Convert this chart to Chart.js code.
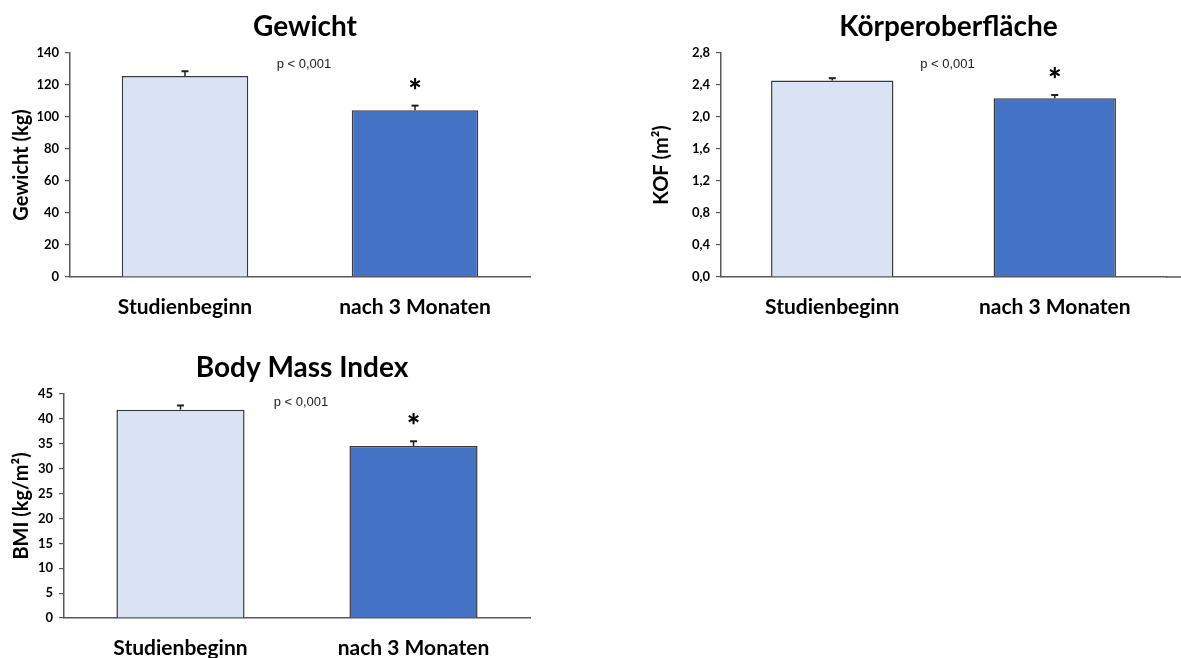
<!DOCTYPE html>
<html><head><meta charset="utf-8">
<script src="https://cdn.jsdelivr.net/npm/chart.js@4.4.1/dist/chart.umd.min.js"></script>
<style>
html,body{margin:0;padding:0;background:#fff;}
#wrap{position:relative;width:1181px;height:658px;overflow:hidden;background:#fff;}
canvas{position:absolute;}
</style></head><body>
<div id="wrap">
<canvas id="c1" width="545" height="330" style="left:0px;top:0px"></canvas>
<canvas id="c2" width="541" height="330" style="left:640px;top:0px"></canvas>
<canvas id="c3" width="545" height="318" style="left:0px;top:340px"></canvas>
</div>
<script>
// ---- data ----
const categories = ['Studienbeginn', 'nach 3 Monaten'];
const sigMarks = ['', '*'];
const pText = 'p < 0,001';

const gewichtTitle = 'Gewicht';
const gewichtAxisTitle = 'Gewicht (kg)';
const gewichtMeans = [125.6, 104.2];
const gewichtErrors = [3.0, 2.9];
const gewichtTicks = [0, 20, 40, 60, 80, 100, 120, 140];
const gewichtTickLabels = ['0', '20', '40', '60', '80', '100', '120', '140'];

const kofTitle = 'Körperoberfläche';
const kofAxisTitle = 'KOF (m²)';
const kofMeans = [2.455, 2.235];
const kofErrors = [0.03, 0.04];
const kofTicks = [0, 0.4, 0.8, 1.2, 1.6, 2.0, 2.4, 2.8];
const kofTickLabels = ['0,0', '0,4', '0,8', '1,2', '1,6', '2,0', '2,4', '2,8'];

const bmiTitle = 'Body Mass Index';
const bmiAxisTitle = 'BMI (kg/m²)';
const bmiMeans = [41.85, 34.55];
const bmiErrors = [0.85, 0.95];
const bmiTicks = [0, 5, 10, 15, 20, 25, 30, 35, 40, 45];
const bmiTickLabels = ['0', '5', '10', '15', '20', '25', '30', '35', '40', '45'];

// ---- styles ----
const barColors = ['#DAE3F3', '#4472C4'];
const axisColor = '#595959';
const FONT = 'Lato, "Open Sans", sans-serif';

const annotPlugin = {
  id: 'annot',
  afterDatasetsDraw(chart, args, opts) {
    const ctx = chart.ctx, ca = chart.chartArea, ys = chart.scales.y;
    const ds = chart.data.datasets[0];
    const meta = chart.getDatasetMeta(0);
    ctx.save();
    // error bars (upper only)
    meta.data.forEach((bar, i) => {
      const base = ys.getPixelForValue(ds.data[i]);
      const top = ys.getPixelForValue(ds.data[i] + ds.errors[i]);
      ctx.strokeStyle = '#1f1f1f';
      ctx.lineWidth = 1.5;
      ctx.beginPath(); ctx.moveTo(bar.x, base); ctx.lineTo(bar.x, top); ctx.stroke();
      ctx.lineWidth = 2;
      ctx.beginPath(); ctx.moveTo(bar.x - 3.5, top); ctx.lineTo(bar.x + 3.5, top); ctx.stroke();
      if (ds.marks[i]) {
        ctx.font = '900 32px ' + FONT;
        ctx.fillStyle = '#000';
        ctx.textAlign = 'center';
        ctx.textBaseline = 'alphabetic';
        const m = ctx.measureText(ds.marks[i]);
        const cy = top - opts.starGap;
        ctx.fillText(ds.marks[i], bar.x, cy + (m.actualBoundingBoxAscent - m.actualBoundingBoxDescent) / 2);
      }
    });
    const cx = (ca.left + ca.right) / 2;
    // p value text
    ctx.font = '13px "Liberation Sans", Arial, sans-serif';
    ctx.fillStyle = '#222';
    ctx.textAlign = 'center';
    ctx.textBaseline = 'alphabetic';
    ctx.fillText(opts.pText, cx + 4, ca.top + opts.pOffset);
    // chart title
    ctx.font = 'bold 28px ' + FONT;
    ctx.fillStyle = '#000';
    ctx.fillText(opts.title, cx + 5, ca.top - 17);
    // extended baseline if requested
    if (opts.extendAxis) {
      ctx.strokeStyle = axisColor;
      ctx.lineWidth = 1.5;
      ctx.beginPath(); ctx.moveTo(ca.right, ca.bottom); ctx.lineTo(chart.width, ca.bottom); ctx.stroke();
    }
    ctx.restore();
  }
};

function makeChart(id, cfg) {
  const canvas = document.getElementById(id);
  const H = canvas.height;
  return new Chart(canvas, {
    type: 'bar',
    data: {
      labels: categories,
      datasets: [{
        data: cfg.means,
        errors: cfg.errors,
        marks: sigMarks,
        backgroundColor: barColors,
        borderColor: '#3a3a3a',
        borderWidth: 1.5,
        barPercentage: 0.55,
        categoryPercentage: 1.0
      }]
    },
    options: {
      responsive: false,
      animation: false,
      devicePixelRatio: 1,
      layout: { padding: { top: cfg.top, left: 0, right: cfg.padRight, bottom: 0 } },
      plugins: {
        legend: { display: false },
        tooltip: { enabled: false },
        annot: { title: cfg.title, pText: pText, pOffset: cfg.pOffset, starGap: 22, extendAxis: !!cfg.extendAxis }
      },
      scales: {
        x: {
          grid: { display: false },
          border: { display: true, color: axisColor, width: 1.5 },
          ticks: { color: '#000', font: { family: FONT, size: 21, weight: 'bold' }, padding: 10, maxRotation: 0 },
          afterFit: s => { s.height = H - cfg.bottom; }
        },
        y: {
          min: cfg.ticks[0],
          max: cfg.ticks[cfg.ticks.length - 1],
          afterBuildTicks: s => { s.ticks = cfg.ticks.map(v => ({ value: v })); },
          ticks: {
            color: '#000',
            font: { family: FONT, size: 13, weight: 'bold' },
            padding: 6,
            callback: (v, i) => cfg.tickLabels[i]
          },
          grid: { drawOnChartArea: false, drawTicks: true, tickLength: 5, color: axisColor, lineWidth: 1.2 },
          border: { display: true, color: axisColor, width: 1.5 },
          title: { display: true, text: cfg.axisTitle, color: '#000', font: { family: FONT, size: 20, weight: 'bold' }, padding: { top: 10, bottom: 0 } },
          afterFit: s => { s.width = cfg.left; }
        }
      }
    },
    plugins: [annotPlugin]
  });
}

makeChart('c1', { means: gewichtMeans, errors: gewichtErrors, ticks: gewichtTicks, tickLabels: gewichtTickLabels,
  title: gewichtTitle, axisTitle: gewichtAxisTitle, top: 53, bottom: 277, left: 70, padRight: 15, pOffset: 15 });
makeChart('c2', { means: kofMeans, errors: kofErrors, ticks: kofTicks, tickLabels: kofTickLabels,
  title: kofTitle, axisTitle: kofAxisTitle, top: 53, bottom: 277, left: 81, padRight: 15, pOffset: 15, extendAxis: true });
makeChart('c3', { means: bmiMeans, errors: bmiErrors, ticks: bmiTicks, tickLabels: bmiTickLabels,
  title: bmiTitle, axisTitle: bmiAxisTitle, top: 54, bottom: 278, left: 64, padRight: 15, pOffset: 12 });
</script>
</body></html>
